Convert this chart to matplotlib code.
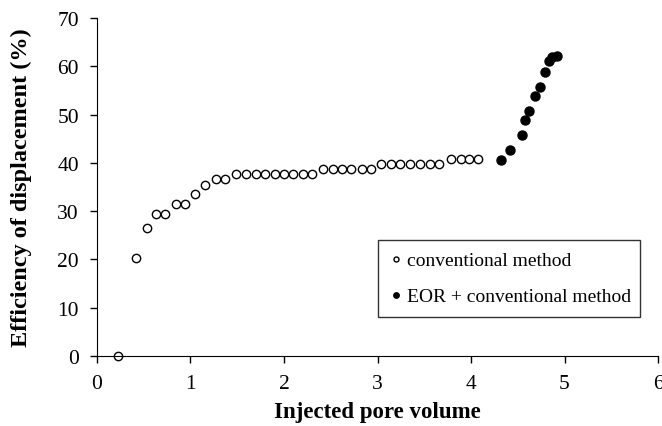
import matplotlib.pyplot as plt

plt.rcParams['font.family'] = ['Liberation Serif', 'DejaVu Serif']

conv_x = [0.23, 0.42, 0.53, 0.63, 0.73, 0.84, 0.94, 1.05, 1.16, 1.27, 1.37,
          1.49, 1.59, 1.70, 1.80, 1.90, 2.00, 2.10, 2.20, 2.30,
          2.42, 2.52, 2.62, 2.72, 2.83, 2.93,
          3.04, 3.14, 3.24, 3.35, 3.45, 3.56, 3.66,
          3.79, 3.89, 3.98, 4.08]
conv_y = [0, 20.3, 26.5, 29.4, 29.4, 31.5, 31.5, 33.6, 35.5, 36.6, 36.6,
          37.7, 37.7, 37.7, 37.7, 37.7, 37.7, 37.7, 37.7, 37.7,
          38.7, 38.7, 38.7, 38.7, 38.7, 38.7,
          39.8, 39.8, 39.8, 39.8, 39.8, 39.8, 39.8,
          40.9, 40.9, 40.9, 40.9]

eor_x = [4.32, 4.42, 4.54, 4.58, 4.62, 4.68, 4.74, 4.79, 4.83, 4.87, 4.92]
eor_y = [40.6, 42.7, 45.7, 48.8, 50.8, 53.9, 55.8, 58.9, 61.1, 62.0, 62.2]

fig = plt.figure(figsize=(6.62, 4.27), dpi=100)
ax = fig.add_axes([0.1465, 0.164, 0.8475, 0.7915])

ax.plot(conv_x, conv_y, 'o', mfc='white', mec='black', mew=1.0, ms=6,
        label='conventional method', clip_on=False)
ax.plot(eor_x, eor_y, 'o', mfc='black', mec='black', ms=6.5,
        label='EOR + conventional method', clip_on=False)

ax.set_xlim(0, 6)
ax.set_ylim(0, 70)
ax.set_xticks(range(0, 7))
ax.set_yticks(range(0, 80, 10))
ax.spines['top'].set_visible(False)
ax.spines['right'].set_visible(False)
ax.tick_params(labelsize=15.5, direction='out', length=5, width=1)
ax.tick_params(axis='x', pad=8)
ax.tick_params(axis='y', pad=8)
ax.set_xlabel('Injected pore volume', fontsize=16.5, fontweight='bold', labelpad=6)
ax.set_ylabel('Efficiency of displacement (%)', fontsize=17.5, fontweight='bold', labelpad=18)

leg = ax.legend(loc='lower left', bbox_to_anchor=(0.501, 0.115, 0.467, 0.222),
                mode='expand', borderaxespad=0, fontsize=14, frameon=True,
                fancybox=False, edgecolor='black', markerscale=0.6,
                handlelength=0.6, handletextpad=0.3, labelspacing=0.95,
                borderpad=0.6)
leg.get_frame().set_linewidth(1.0)

plt.savefig('out.png')
